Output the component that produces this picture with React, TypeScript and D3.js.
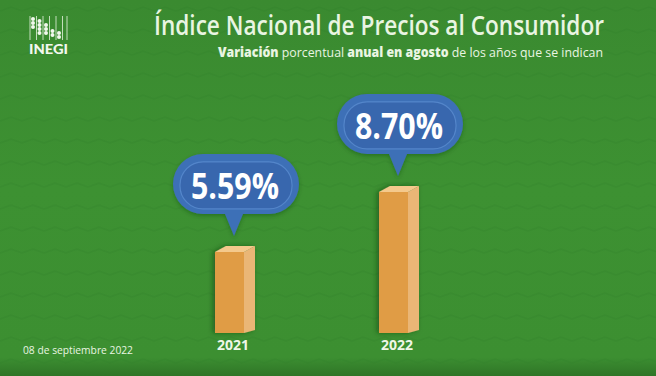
import React from "react";
import * as d3 from "d3";

const years = ["2021", "2022"];
const values = [5.59, 8.7];
const valueLabels = ["5.59%", "8.70%"];
const title = "Índice Nacional de Precios al Consumidor";
const dateLabel = "08 de septiembre 2022";

const W = 656;
const H = 376;

export default function App() {
  const x = d3.scalePoint<string>().domain(years).range([235, 399]);
  const y = d3.scaleLinear().domain([0, 10]).range([359.8, 166.8]);
  const baseY = 333;
  const frontW = 29;
  const depth = 11;
  const topOff = 6;

  const logoCols = [
    { x: 33, ys: [19, 23, 27] },
    { x: 39.5, ys: [21, 25, 29, 33] },
    { x: 46, ys: [25, 29, 33] },
    { x: 52.5, ys: [31, 35] },
    { x: 59, ys: [33, 37] },
  ];
  const logoLines = [30, 36.5, 43, 49.5, 56, 62.5, 67];

  return (
    <svg width={W} height={H} style={{ position: "absolute", left: 0, top: 0 }}>
      <defs>
        <pattern id="zig" width="44" height="22" patternUnits="userSpaceOnUse">
          <path d="M0 11 L11 7 L22 11 L33 7 L44 11" fill="none" stroke="#2f7d2a" strokeOpacity="0.2" strokeWidth="2" />
        </pattern>
        <linearGradient id="bgGrad" x1="0" y1="0" x2="0" y2="1">
          <stop offset="0" stopColor="#3a8a30" />
          <stop offset="0.5" stopColor="#3d9132" />
          <stop offset="0.95" stopColor="#3c8f31" />
          <stop offset="1" stopColor="#2f7527" />
        </linearGradient>
        <filter id="shadow" x="-40%" y="-40%" width="180%" height="180%">
          <feDropShadow dx="-2" dy="0" stdDeviation="2.5" floodColor="#0d3a0a" floodOpacity="0.55" />
        </filter>
        <filter id="bshadow" x="-20%" y="-20%" width="140%" height="160%">
          <feDropShadow dx="0" dy="2" stdDeviation="2" floodColor="#0d3a0a" floodOpacity="0.35" />
        </filter>
      </defs>
      <rect x={0} y={0} width={W} height={H} fill="url(#bgGrad)" />
      <rect x={0} y={0} width={W} height={H} fill="url(#zig)" />

      <g>
        {logoLines.map((lx, i) => (
          <line key={"l" + i} x1={lx} x2={lx} y1={16} y2={40} stroke="#e6f2df" strokeWidth={0.8} />
        ))}
        {logoCols.map((c, i) =>
          c.ys.map((yy, j) => <circle key={`d${i}-${j}`} cx={c.x} cy={yy} r={2} fill="#f2f8ee" />)
        )}
        <text x={48.5} y={54} textAnchor="middle" fontFamily="Lato, 'Open Sans', sans-serif" fontWeight={900} fontSize={12.5} fill="#f2f8ee" textLength={39} lengthAdjust="spacingAndGlyphs">
          INEGI
        </text>
      </g>

      <text x={604} y={35} textAnchor="end" fontFamily="'Open Sans', 'Noto Sans', sans-serif" fontWeight={600} fontSize={27} fill="#e9f5e2" textLength={450} lengthAdjust="spacingAndGlyphs">
        {title}
      </text>
      <text x={603} y={57} textAnchor="end" fontFamily="'Open Sans', 'Noto Sans', sans-serif" fontSize={13.5} fill="#e9f5e2" textLength={385} lengthAdjust="spacingAndGlyphs">
        <tspan fontWeight={800}>Variación</tspan>
        <tspan> porcentual </tspan>
        <tspan fontWeight={800}>anual en agosto</tspan>
        <tspan> de los años que se indican</tspan>
      </text>

      {years.map((yr, i) => {
        const cx = x(yr)!;
        const left = cx - (frontW + depth) / 2;
        const fr = left + frontW;
        const top = y(values[i]);
        const front = `M${left},${top} L${fr},${top} L${fr},${baseY} L${left},${baseY} Z`;
        const side = `M${fr},${top} L${fr + depth},${top - topOff} L${fr + depth},${baseY - 3} L${fr},${baseY} Z`;
        const topFace = `M${left},${top} L${left + depth},${top - topOff} L${fr + depth},${top - topOff} L${fr},${top} Z`;
        return (
          <g key={yr}>
            <g filter="url(#shadow)">
              <path d={front} fill="#e09c45" />
              <path d={side} fill="#eab676" />
              <path d={topFace} fill="#f4c98c" />
            </g>
            <text x={cx - 2} y={350} textAnchor="middle" fontFamily="'Open Sans', sans-serif" fontWeight={700} fontSize={14} fill="#eef7e8">
              {yr}
            </text>
          </g>
        );
      })}

      {years.map((yr, i) => {
        const cx = x(yr)! + 1;
        const top = y(values[i]);
        const bw = 126;
        const bh = 60;
        const bBottom = top - topOff - 32;
        const bTop = bBottom - bh;
        const tipY = top - topOff - 10;
        const tipX = cx - 2;
        const bubble = `M${cx - bw / 2 + 30},${bTop} L${cx + bw / 2 - 30},${bTop} A30,30 0 0 1 ${cx + bw / 2 - 30},${bBottom} L${tipX + 9},${bBottom} L${tipX},${tipY} L${tipX - 9},${bBottom} L${cx - bw / 2 + 30},${bBottom} A30,30 0 0 1 ${cx - bw / 2 + 30},${bTop} Z`;
        return (
          <g key={"b" + yr}>
            <path d={bubble} fill="#3e6fb7" filter="url(#bshadow)" />
            <rect x={cx - bw / 2 + 7} y={bTop + 8} width={bw - 14} height={bh - 13} rx={23} fill="#3867ae" stroke="#5a8ccf" strokeWidth={1.2} strokeOpacity={0.8} />
            <text x={cx - 1} y={bBottom - 15} textAnchor="middle" fontFamily="'Open Sans', sans-serif" fontWeight={700} fontSize={35} fill="#ffffff" textLength={88} lengthAdjust="spacingAndGlyphs">
              {valueLabels[i]}
            </text>
          </g>
        );
      })}

      <text x={23} y={354} fontFamily="'Open Sans', sans-serif" fontSize={11.5} fill="#e9f5e2" textLength={110} lengthAdjust="spacingAndGlyphs">
        {dateLabel}
      </text>
    </svg>
  );
}
